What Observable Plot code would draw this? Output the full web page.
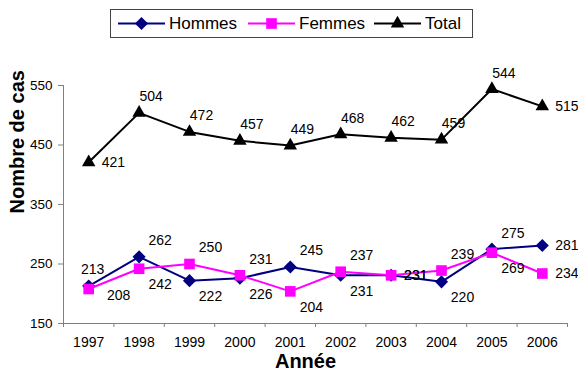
<!DOCTYPE html>
<html><head><meta charset="utf-8">
<script src="https://cdn.jsdelivr.net/npm/d3@7"></script>
<script src="https://cdn.jsdelivr.net/npm/@observablehq/plot@0.6"></script>
<style>
body{margin:0;background:#fff;font-family:"Liberation Sans",Arial,sans-serif;}
#wrap{position:relative;width:578px;height:376px;overflow:hidden;}
#legend{position:absolute;left:110px;top:9px;width:363px;height:29px;border:1px solid #444;box-sizing:border-box;background:#fff;}
.item{position:absolute;top:0;height:27px;display:flex;align-items:center;font-size:17px;color:#000;}
.item span{margin-left:4px;}
</style></head><body><div id="wrap"><div id="chart"></div><div id="legend"></div></div>
<script>
const years = [1997, 1998, 1999, 2000, 2001, 2002, 2003, 2004, 2005, 2006];
const hommes = [213, 262, 222, 226, 245, 231, 231, 220, 275, 281];
const femmes = [208, 242, 250, 231, 204, 237, 231, 239, 269, 234];
const total = [421, 504, 472, 457, 449, 468, 462, 459, 544, 515];
const yTicks = [150, 250, 350, 450, 550];
const seriesNames = ["Hommes", "Femmes", "Total"];

const colors = {Hommes: "#000080", Femmes: "#FF00FF", Total: "#000000"};
const symbols = {Hommes: "diamond2", Femmes: "square", Total: "triangle"};
const d3symbols = {Hommes: d3.symbolDiamond2, Femmes: d3.symbolSquare, Total: d3.symbolTriangle};
const radius = {Hommes: 5.9, Femmes: 6.0, Total: 5.0};
const valuesBy = {Hommes: hommes, Femmes: femmes, Total: total};
const n = years.length;

function place(s, i) {
  if (s === "Total") return (i === 0 || i === n - 1) ? "right" : "above";
  const h = hommes[i], f = femmes[i];
  if (i === n - 1 || h === f) return "right";
  const mine = s === "Hommes" ? h : f, other = s === "Hommes" ? f : h;
  if (mine > other) return i === 0 ? "aboveStart" : "above";
  return i === 0 ? "belowStart" : "below";
}

const rows = seriesNames.flatMap(s => years.map((y, i) => ({series: s, year: y, value: valuesBy[s][i], place: place(s, i)})));
const bounds = d3.range(years[0] - 0.5, years[n - 1] + 1, 1);

const lineMarks = seriesNames.flatMap(s => {
  const data = rows.filter(d => d.series === s);
  return [
    Plot.line(data, {x: "year", y: "value", stroke: colors[s], strokeWidth: 2}),
    Plot.dot(data, {x: "year", y: "value", symbol: () => symbols[s], r: radius[s], fill: colors[s], stroke: "none"})
  ];
});

const lbl = {fontSize: 14, fill: "#000", text: d => String(d.value), x: "year", y: "value"};
const labelMarks = [
  Plot.text(rows.filter(d => d.series === "Total" && d.place === "above"), {...lbl, dx: 12, dy: -16}),
  Plot.text(rows.filter(d => d.series !== "Total" && d.place === "above"), {...lbl, dx: 21, dy: -16}),
  Plot.text(rows.filter(d => d.place === "aboveStart"), {...lbl, dx: 4, dy: -16}),
  Plot.text(rows.filter(d => d.place === "below"), {...lbl, dx: 21, dy: 16}),
  Plot.text(rows.filter(d => d.place === "belowStart"), {...lbl, dx: 30, dy: 7}),
  Plot.text(rows.filter(d => d.place === "right"), {...lbl, dx: 13, textAnchor: "start"})
];

const chart = Plot.plot({
  width: 578, height: 376,
  marginLeft: 63, marginRight: 11, marginTop: 85, marginBottom: 53,
  style: {fontFamily: "'Liberation Sans', Arial, sans-serif", background: "transparent", overflow: "visible"},
  x: {type: "linear", domain: [bounds[0], bounds[bounds.length - 1]]},
  y: {domain: [yTicks[0], yTicks[yTicks.length - 1]]},
  marks: [
    Plot.axisX({ticks: bounds, tickSize: 4, tickFormat: () => "", stroke: "#808080", label: null}),
    Plot.axisX({ticks: years, tickSize: 0, tickPadding: 14, tickFormat: d => String(d), fill: "#000", fontSize: 14, label: null}),
    Plot.axisY({ticks: yTicks, tickSize: 5, tickPadding: 6, stroke: "#808080", fill: "#000", fontSize: 13.5, label: null}),
    Plot.ruleY([yTicks[0]], {stroke: "#808080", strokeWidth: 1}),
    Plot.ruleX([bounds[0]], {stroke: "#808080", strokeWidth: 1}),
    ...lineMarks,
    ...labelMarks,
    Plot.text(["Nombre de cas"], {frameAnchor: "left", rotate: -90, dx: -46, dy: 9, fontSize: 20, fontWeight: "bold", fill: "#000"}),
    Plot.text(["Année"], {frameAnchor: "bottom", dx: -10, dy: 44, fontSize: 20, fontWeight: "bold", fill: "#000"})
  ]
});
document.getElementById("chart").appendChild(chart);

// Legend
const legend = document.getElementById("legend");
const itemLeft = [7, 137, 263];
seriesNames.forEach((s, k) => {
  const div = document.createElement("div");
  div.className = "item";
  div.style.left = itemLeft[k] + "px";
  const svg = d3.create("svg").attr("width", 47).attr("height", 27);
  svg.append("line").attr("x1", 0).attr("x2", 47).attr("y1", 13.5).attr("y2", 13.5).attr("stroke", colors[s]).attr("stroke-width", 2);
  svg.append("path").attr("transform", "translate(23.5,13.5)")
    .attr("d", d3.symbol(d3symbols[s], Math.PI * radius[s] * radius[s])()).attr("fill", colors[s]);
  div.appendChild(svg.node());
  const sp = document.createElement("span");
  sp.textContent = s;
  div.appendChild(sp);
  legend.appendChild(div);
});
</script></body></html>
